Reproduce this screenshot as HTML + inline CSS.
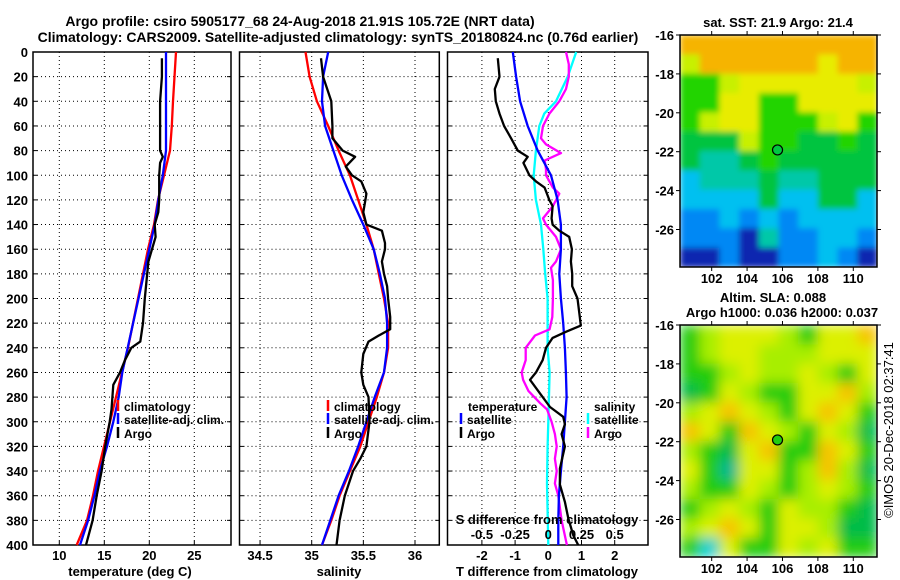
<!DOCTYPE html>
<html><head><meta charset="utf-8"><style>
html,body{margin:0;padding:0;background:#fff;width:900px;height:580px;overflow:hidden}
svg{display:block;font-family:"Liberation Sans",Arial,sans-serif;font-weight:bold}
text{font-size:13px;fill:#000}
text.leg{font-size:12px}
</style></head><body>
<svg id="chart" width="900" height="580" viewBox="0 0 900 580" xmlns="http://www.w3.org/2000/svg">
<defs>
<filter id="blurS" x="0" y="0" width="1" height="1"><feGaussianBlur stdDeviation="3" edgeMode="duplicate"/></filter>
<filter id="blurL" x="0" y="0" width="1" height="1"><feGaussianBlur stdDeviation="6" edgeMode="duplicate"/></filter>
<clipPath id="clip1"><rect x="680" y="35" width="197" height="232"/></clipPath>
<clipPath id="clip2"><rect x="680" y="325" width="197" height="232"/></clipPath>
</defs>
<text x="300" y="26" text-anchor="middle" style="font-size:14px">Argo profile: csiro 5905177_68 24-Aug-2018 21.91S 105.72E (NRT data)</text>
<text x="338" y="42" text-anchor="middle" style="font-size:14px">Climatology: CARS2009. Satellite-adjusted climatology: synTS_20180824.nc (0.76d earlier)</text>
<g id="panels"></g>
<g id="maps"></g>
<text transform="translate(893,430) rotate(-90)" text-anchor="middle" style="font-size:13px;font-weight:normal">©IMOS 20-Dec-2018 02:37:41</text>
</svg>
<script>
// ---- depth data ----
const tDepth = [0,20,40,60,80,100,120,140,160,180,200,220,240,260,280,300,320,340,360,380,400];
const tempClim = [22.97,22.8,22.63,22.5,22.3,21.63,20.97,20.52,19.86,19.3,18.74,18.19,17.63,16.97,16.3,15.63,14.97,14.3,13.74,13.08,11.93];
const tempSat  = [21.86,21.86,21.86,21.86,21.86,21.5,21.0,20.6,20.0,19.4,18.8,18.2,17.6,17.0,16.6,16.0,15.3,14.5,13.9,13.2,12.3];
const argoTDepth = [5,20,40,60,80,85,90,100,120,130,140,150,160,170,200,220,235,240,250,260,270,290,300,320,340,360,380,400];
const argoTemp = [21.4,21.4,21.2,21.2,21.2,21.5,21.2,21.1,21.1,21.0,20.6,20.7,20.3,19.9,19.5,19.3,19.0,18.0,17.3,16.75,16.0,15.8,15.6,15.1,14.7,14.15,13.7,12.97];

const salClim = [34.94,34.98,35.05,35.16,35.26,35.37,35.45,35.53,35.60,35.65,35.70,35.74,35.74,35.70,35.63,35.55,35.47,35.37,35.27,35.19,35.1];
const salSat  = [35.16,35.11,35.10,35.13,35.21,35.29,35.39,35.50,35.60,35.66,35.71,35.73,35.73,35.70,35.61,35.53,35.45,35.36,35.26,35.18,35.1];
const argoSDepth = [5,20,40,60,70,80,85,93,100,105,115,120,130,140,145,155,160,170,180,190,200,215,225,230,235,245,260,270,280,300,320,330,340,360,380,400];
const argoSal = [35.09,35.11,35.19,35.2,35.2,35.30,35.42,35.33,35.39,35.48,35.53,35.52,35.5,35.53,35.68,35.71,35.71,35.68,35.70,35.73,35.74,35.76,35.76,35.65,35.55,35.5,35.48,35.5,35.55,35.56,35.53,35.47,35.40,35.32,35.27,35.24];

const dTDepth = [0,20,40,60,80,100,120,140,160,180,200,220,240,260,280,300,320,340,360,380,400];
const satTDiff = [-1.07,-0.97,-0.85,-0.62,-0.32,0.08,0.28,0.38,0.38,0.33,0.38,0.45,0.5,0.53,0.55,0.5,0.45,0.38,0.32,0.3,0.3];
const argoTDiffDepth = [5,20,30,40,50,60,70,80,85,90,100,105,110,120,125,135,140,145,150,160,170,180,190,200,215,222,227,232,240,250,260,266,277,288,296,302,310,320,338,351,365,378,392,400];
const argoTDiff = [-1.52,-1.47,-1.61,-1.58,-1.47,-1.33,-1.12,-0.92,-0.62,-0.75,-0.57,-0.37,-0.11,0.03,0.13,0.1,0.13,0.33,0.63,0.71,0.68,0.72,0.72,0.88,0.95,0.98,0.53,0.13,-0.07,-0.17,-0.37,-0.55,-0.25,0.05,0.45,0.5,0.4,0.5,0.35,0.35,0.5,0.6,0.75,0.9];
const sDiffDepth = [0,20,40,50,60,80,100,120,140,160,180,200,220,240,260,300,320,350,400];
const satSDiff = [0.21,0.146,0.058,-0.03,-0.068,-0.093,-0.11,-0.093,-0.055,-0.038,-0.023,-0.005,-0.005,-0.005,0.01,0.0,-0.005,-0.01,0.0];
const argoSDiffDepth = [0,10,20,30,40,50,60,70,75,82,88,95,100,110,115,125,135,140,150,160,170,175,185,200,215,225,230,240,250,260,266,275,285,290,300,310,320,330,340,350,360,380,400];
const argoSDiff = [0.133,0.154,0.154,0.133,0.083,0.008,-0.04,-0.055,-0.017,0.096,-0.027,-0.017,-0.017,0.035,0.083,0.035,-0.04,-0.017,0.058,0.096,0.058,0.02,0.035,0.035,0.03,0.01,-0.1,-0.17,-0.17,-0.2,-0.19,-0.15,-0.06,-0.01,0.025,0.05,0.063,0.05,0.063,0.05,0.075,0.1,0.14];

const depthTicks = [0,20,40,60,80,100,120,140,160,180,200,220,240,260,280,300,320,340,360,380,400];
const tempTicks = [10,15,20,25];
const salTicks = [34.5,35,35.5,36];
const dTTicks = [-2,-1,0,1,2];
const dSTickLabels = ['-0.5','-0.25','0','0.25','0.5'];
const dSTicks = [-0.5,-0.25,0,0.25,0.5];

// map grids (rows from -16 southward, cols west to east)
const sstRows = ["OOOOOOOOOO","LOOOOOOYOO","GGLYYYYYYL","GGYYGGYYYY","GLYYGGGLYG","DDDLGGDDGD","DTTDGDDDDD","CTTTDTTDDD","CCCCDCCDDC","BBCBCBCCCC","BBBNTBBCCB","NNBNNBBCBN"];
const slaRows = ["GLYYYLGYYO","GLYYLLLYYY","GGLYLLYLGY","DGYLGGYYOL","LYOYLGYOYG","OYGOYLGYLD","LGDYOGGOYG","YGTYYGLOLD","LGGYLGLYLG","GLYLGYLLGD","LYOYGYYLDD","GCYGGYLYGG"];
const sstColors = {O:"#f6b400",L:"#c8f000",Y:"#e8ec00",G:"#22d400",D:"#00c440",T:"#00c8a8",C:"#00c0f0",B:"#0088f4",N:"#0828b0"};
const slaColors = {O:"#f6c400",L:"#a8ee00",Y:"#dcf000",G:"#22cc10",D:"#00bc48",T:"#00b890",C:"#00d0d0"};
const latTicks = [-16,-18,-20,-22,-24,-26];
const lonTicks = [102,104,106,108,110];
const argoLon = 105.72, argoLat = -21.91;

const NS = "http://www.w3.org/2000/svg";
function el(tag, attrs, parent, txt){
  const e = document.createElementNS(NS, tag);
  for (const k in attrs) e.setAttribute(k, attrs[k]);
  if (txt !== undefined) e.textContent = txt;
  parent.appendChild(e); return e;
}
const panels = document.getElementById('panels');
const yTop = 52, yBot = 545;
const yD = d => yTop + d*(yBot-yTop)/400;

function makePanel(name, x0, x1, xs, ticks, tickLabels, showY){
  const g = el('g', {}, panels);
  
  
  ticks.forEach((t,i) => {
    const gl = el('line', {x1:xs(t), x2:xs(t), y1:yTop, y2:yBot, stroke:'#000','stroke-dasharray':'1,3','stroke-width':1}, g);
    
    
    el('line', {x1:xs(t), x2:xs(t), y1:yBot-4, y2:yBot, stroke:'#000'}, g);
    if (tickLabels){
      const tl = el('text', {x:xs(t), y:560, 'text-anchor':'middle'}, g, tickLabels[i]);
      
      
    }
  });
  depthTicks.forEach(d => {
    if (d>0 && d<400){
      const gl = el('line', {x1:x0, x2:x1, y1:yD(d), y2:yD(d), stroke:'#000','stroke-dasharray':'1,3'}, g);
      
      
    }
    el('line', {x1:x0, x2:x0+4, y1:yD(d), y2:yD(d), stroke:'#000'}, g);
    el('line', {x1:x1-4, x2:x1, y1:yD(d), y2:yD(d), stroke:'#000'}, g);
    if (showY){
      const tl = el('text', {x:28, y:yD(d)+5, 'text-anchor':'end'}, g, String(d));
      
      
    }
  });
  const fr = el('rect', {x:x0, y:yTop, width:x1-x0, height:yBot-yTop, fill:'none', stroke:'#000', 'stroke-width':1.5}, g);
  
  
  return g;
}
function line(g, name, xs, depths, vals, color, w){
  const pts = depths.map((d,i) => xs(vals[i]).toFixed(1)+','+yD(d).toFixed(1)).join(' ');
  const p = el('polyline', {points:pts, fill:'none', stroke:color, 'stroke-width':w||2.3, 'stroke-linejoin':'round'}, g);
  
  
}
function legendEntry(g, name, x, y, color, label){
  const e = el('g', {}, g);
  
  
  el('line', {x1:x, x2:x, y1:y-11, y2:y, stroke:color, 'stroke-width':2.5}, e);
  el('text', {x:x+6, y:y, 'class':'leg'}, e, label);
}

// Panel 1: temperature
const xT = t => 59.3 + (t-10)*9;
const p1 = makePanel('temperature-panel', 33, 231, xT, tempTicks, tempTicks.map(String), true);
line(p1, 'temp-climatology-line', xT, tDepth, tempClim, '#ff0000');
line(p1, 'temp-satellite-line', xT, tDepth, tempSat, '#0000ff');
line(p1, 'temp-argo-line', xT, argoTDepth, argoTemp, '#000000');
legendEntry(p1, 'legend-climatology', 118, 411, '#ff0000', 'climatology');
legendEntry(p1, 'legend-satellite-adj', 118, 424, '#0000ff', 'satellite-adj. clim.');
legendEntry(p1, 'legend-argo', 118, 438, '#000', 'Argo');
{const t = el('text',{x:130,y:576,'text-anchor':'middle'},p1,'temperature (deg C)');  }

// Panel 2: salinity
const xS = s => 311.7 + (s-35)*103.3;
const p2 = makePanel('salinity-panel', 239.5, 439.3, xS, salTicks, salTicks.map(String), false);
line(p2, 'sal-climatology-line', xS, tDepth, salClim, '#ff0000');
line(p2, 'sal-satellite-line', xS, tDepth, salSat, '#0000ff');
line(p2, 'sal-argo-line', xS, argoSDepth, argoSal, '#000000');
legendEntry(p2, 'legend-climatology', 328, 411, '#ff0000', 'climatology');
legendEntry(p2, 'legend-satellite-adj', 328, 424, '#0000ff', 'satellite-adj. clim.');
legendEntry(p2, 'legend-argo', 328, 438, '#000', 'Argo');
{const t = el('text',{x:339,y:576,'text-anchor':'middle'},p2,'salinity');  }

// Panel 3: differences
const xDT = t => 548.3 + t*33.2;
const xDS = s => 548.3 + s*132.8;
const p3 = makePanel('difference-panel', 447.5, 648, xDT, dTTicks, dTTicks.map(String), false);
line(p3, 'sal-diff-satellite-line', xDS, sDiffDepth, satSDiff, '#00ffff');
line(p3, 'sal-diff-argo-line', xDS, argoSDiffDepth, argoSDiff, '#ff00ff');
line(p3, 'temp-diff-satellite-line', xDT, dTDepth, satTDiff, '#0000ff');
line(p3, 'temp-diff-argo-line', xDT, argoTDiffDepth, argoTDiff, '#000000');
{const t = el('text',{x:468,y:411,'class':'leg'},p3,'temperature');  }
{const t = el('text',{x:594,y:411,'class':'leg'},p3,'salinity');  }
legendEntry(p3, 'legend-temp-satellite', 461, 424, '#0000ff', 'satellite');
legendEntry(p3, 'legend-temp-argo', 461, 438, '#000', 'Argo');
legendEntry(p3, 'legend-sal-satellite', 588, 424, '#00ffff', 'satellite');
legendEntry(p3, 'legend-sal-argo', 588, 438, '#ff00ff', 'Argo');
{const t = el('text',{x:547,y:524,'text-anchor':'middle'},p3,'S difference from climatology');  }
dSTicks.forEach((s,i)=>{const t = el('text',{x:xDS(s),y:539,'text-anchor':'middle'},p3,dSTickLabels[i]);  });
{const t = el('text',{x:547,y:576,'text-anchor':'middle'},p3,'T difference from climatology');  }

// Maps
const maps = document.getElementById('maps');
const mx0 = 680, mx1 = 877, lonL = 100.21, pxLon = 17.7, pxLat = 19.45;
const xLon = l => mx0 + (l-lonL)*pxLon;
function makeMap(name, my0, rows, colors, clipId, filterId, markerColor){
  const my1 = my0 + 232;
  const g = el('g', {}, maps);
  
  
  const yLat = la => my0 + (-16 - la)*pxLat;
  const nr = rows.length, nc = rows[0].length;
  const cw = (mx1-mx0)/nc, ch = (my1-my0)/nr;
  const cg = el('g', {'clip-path':'url(#'+clipId+')'}, g);
  const img = el('g', {filter:'url(#'+filterId+')'}, cg);
  
  
  rows.forEach((r,i)=>{ for (let j=0;j<nc;j++){
    el('rect',{x:(mx0+j*cw).toFixed(1),y:(my0+i*ch).toFixed(1),width:(cw+0.6).toFixed(1),height:(ch+0.6).toFixed(1),fill:colors[r[j]]},img);
  }});
  el('rect',{x:mx0,y:my0,width:mx1-mx0,height:my1-my0,fill:'none',stroke:'#000','stroke-width':1.5},g);
  latTicks.forEach(la=>{
    el('line',{x1:mx0-4,x2:mx0,y1:yLat(la),y2:yLat(la),stroke:'#000'},g);
    el('line',{x1:mx1,x2:mx1+4,y1:yLat(la),y2:yLat(la),stroke:'#000'},g);
    const t = el('text',{x:674,y:yLat(la)+5,'text-anchor':'end'},g,String(la));
    
    
  });
  lonTicks.forEach(lo=>{
    el('line',{x1:xLon(lo),x2:xLon(lo),y1:my1,y2:my1+4,stroke:'#000'},g);
    el('line',{x1:xLon(lo),x2:xLon(lo),y1:my0-4,y2:my0,stroke:'#000'},g);
    const t = el('text',{x:xLon(lo),y:my1+16,'text-anchor':'middle'},g,String(lo));
    
    
  });
  const c = el('circle',{cx:xLon(argoLon),cy:yLat(argoLat),r:5,fill:markerColor,stroke:'#000','stroke-width':1.2},g);
  
  
  return g;
}
const m1 = makeMap('sst-map', 35, sstRows, sstColors, 'clip1', 'blurS', '#00c840');
{const t = el('text',{x:778,y:27,'text-anchor':'middle'},m1,'sat. SST: 21.9 Argo: 21.4');  }
const m2 = makeMap('sla-map', 325, slaRows, slaColors, 'clip2', 'blurL', '#22cc10');
{const t = el('text',{x:773,y:302,'text-anchor':'middle'},m2,'Altim. SLA: 0.088');  }
{const t = el('text',{x:782,y:317,'text-anchor':'middle'},m2,'Argo h1000: 0.036 h2000: 0.037');  }
</script>
</body></html>
